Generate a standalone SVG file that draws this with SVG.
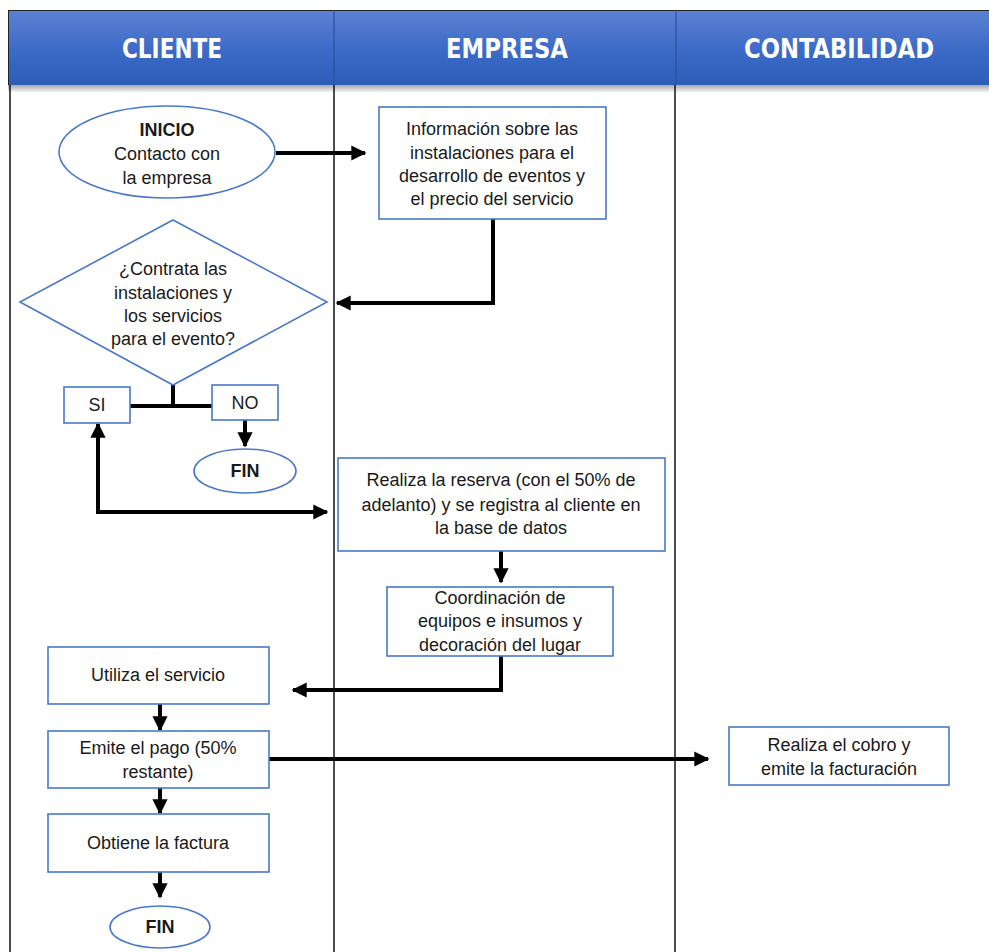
<svg xmlns="http://www.w3.org/2000/svg" width="989" height="952" viewBox="0 0 989 952">
<defs>
<linearGradient id="hg" x1="0" y1="0" x2="0" y2="1">
<stop offset="0" stop-color="#5c82d2"/>
<stop offset="0.5" stop-color="#3e6cc8"/>
<stop offset="1" stop-color="#2c5db8"/>
</linearGradient>
<linearGradient id="sh" x1="0" y1="0" x2="0" y2="1">
<stop offset="0" stop-color="#000" stop-opacity="0.35"/>
<stop offset="1" stop-color="#000" stop-opacity="0"/>
</linearGradient>
<marker id="ah" viewBox="0 0 10 10" refX="9" refY="5" markerWidth="3.8" markerHeight="3.8" orient="auto-start-reverse" markerUnits="strokeWidth">
<path d="M0,0 L10,5 L0,10 z" fill="#000"/>
</marker>
<style>
.lane{stroke:#111;stroke-width:1.5;fill:none}
.hd{font-family:"Liberation Sans Narrow","DejaVu Sans Condensed","Liberation Sans",sans-serif;font-weight:bold;font-size:27px;fill:#fff;text-anchor:middle}
.box{fill:#fff;stroke:#4a78c8;stroke-width:1.6}
.t{font-family:"Liberation Sans",Arial,sans-serif;font-size:18px;fill:#1a1a1a;text-anchor:middle}
.b{font-weight:bold}
.c{stroke:#000;stroke-width:4;fill:none}
</style>
</defs>
<rect width="989" height="952" fill="#fff"/>
<g id="lanes">
<rect x="8" y="85" width="981" height="8" fill="url(#sh)"/>
<line class="lane" x1="10" y1="85" x2="10" y2="952"/>
<line class="lane" x1="334" y1="85" x2="334" y2="952"/>
<line class="lane" x1="675" y1="85" x2="675" y2="952"/>
<rect x="8" y="10" width="981" height="75" fill="url(#hg)"/>
<line x1="8" y1="10.5" x2="989" y2="10.5" stroke="#222" stroke-width="1.2"/>
<line x1="8.5" y1="10" x2="8.5" y2="85" stroke="#222" stroke-width="1"/>
<line x1="334" y1="10" x2="334" y2="85" stroke="#2a4f9a" stroke-width="1.2"/>
<line x1="676" y1="10" x2="676" y2="85" stroke="#2a4f9a" stroke-width="1.2"/>
<text class="hd" x="172" y="58" textLength="100" lengthAdjust="spacingAndGlyphs">CLIENTE</text>
<text class="hd" x="507" y="58" textLength="122" lengthAdjust="spacingAndGlyphs">EMPRESA</text>
<text class="hd" x="839" y="58" textLength="190" lengthAdjust="spacingAndGlyphs">CONTABILIDAD</text>
</g>
<g id="connectors">
<line class="c" x1="276" y1="153" x2="365" y2="153" marker-end="url(#ah)"/>
<polyline class="c" points="493,219 493,303 337,303" marker-end="url(#ah)"/>
<polyline class="c" points="173,385 173,406"/>
<line class="c" x1="130" y1="406" x2="212" y2="406"/>
<line class="c" x1="245" y1="420" x2="245" y2="446" marker-end="url(#ah)"/>
<polyline class="c" points="98,424 98,512 327,512" marker-start="url(#ah)" marker-end="url(#ah)"/>
<line class="c" x1="501" y1="551" x2="501" y2="582" marker-end="url(#ah)"/>
<polyline class="c" points="501,656 501,690 293,690" marker-end="url(#ah)"/>
<line class="c" x1="160" y1="704" x2="160" y2="730" marker-end="url(#ah)"/>
<line class="c" x1="160" y1="788" x2="160" y2="813" marker-end="url(#ah)"/>
<line class="c" x1="160" y1="872" x2="160" y2="897" marker-end="url(#ah)"/>
<line class="c" x1="269" y1="759" x2="708" y2="759" marker-end="url(#ah)"/>
</g>
<g id="inicio">
<ellipse class="box" cx="167" cy="152" rx="108" ry="46"/>
<text class="t b" x="167" y="136">INICIO</text>
<text class="t" x="167" y="160">Contacto con</text>
<text class="t" x="167" y="184">la empresa</text>
</g>
<g id="informacion">
<rect class="box" x="379" y="107" width="227" height="112"/>
<text class="t" x="492" y="135">Información sobre las</text>
<text class="t" x="492" y="159">instalaciones para el</text>
<text class="t" x="492" y="182">desarrollo de eventos y</text>
<text class="t" x="492" y="205">el precio del servicio</text>
</g>
<g id="decision">
<polygon class="box" points="173,220 327,302 173,385 20,302"/>
<text class="t" x="173" y="275">¿Contrata las</text>
<text class="t" x="173" y="299">instalaciones y</text>
<text class="t" x="173" y="322">los servicios</text>
<text class="t" x="173" y="345">para el evento?</text>
</g>
<g id="si">
<rect class="box" x="64" y="387" width="66" height="36"/>
<text class="t" x="97" y="411">SI</text>
</g>
<g id="no">
<rect class="box" x="212" y="385" width="66" height="35"/>
<text class="t" x="245" y="409">NO</text>
</g>
<g id="fin1">
<ellipse class="box" cx="245" cy="471" rx="51" ry="22"/>
<text class="t b" x="245" y="477">FIN</text>
</g>
<g id="reserva">
<rect class="box" x="338" y="458" width="327" height="93"/>
<text class="t" x="501" y="486">Realiza la reserva (con el 50% de</text>
<text class="t" x="501" y="511">adelanto) y se registra al cliente en</text>
<text class="t" x="501" y="534">la base de datos</text>
</g>
<g id="coordinacion">
<rect class="box" x="387" y="587" width="226" height="69"/>
<text class="t" x="500" y="604">Coordinación de</text>
<text class="t" x="500" y="627">equipos e insumos y</text>
<text class="t" x="500" y="651">decoración del lugar</text>
</g>
<g id="utiliza">
<rect class="box" x="48" y="647" width="221" height="57"/>
<text class="t" x="158" y="681">Utiliza el servicio</text>
</g>
<g id="emite">
<rect class="box" x="48" y="731" width="221" height="57"/>
<text class="t" x="158" y="754">Emite el pago (50%</text>
<text class="t" x="158" y="778">restante)</text>
</g>
<g id="obtiene">
<rect class="box" x="48" y="814" width="221" height="58"/>
<text class="t" x="158" y="849">Obtiene la factura</text>
</g>
<g id="fin2">
<ellipse class="box" cx="160" cy="927" rx="50" ry="21"/>
<text class="t b" x="160" y="933">FIN</text>
</g>
<g id="cobro">
<rect class="box" x="729" y="727" width="220" height="58"/>
<text class="t" x="839" y="751">Realiza el cobro y</text>
<text class="t" x="839" y="775">emite la facturación</text>
</g>
</svg>
